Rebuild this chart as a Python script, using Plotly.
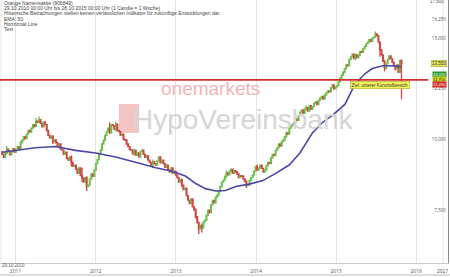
import math
import plotly.graph_objects as go
import pandas as pd

# ---- weekly closes (1 candle = 1 week, from 2010-11-01) ----
closes = [
    9.40, 9.28, 9.45, 9.60, 9.52, 9.38, 9.50, 9.62, 9.48,
    9.55, 9.70, 9.62, 9.85, 9.96,
    10.10, 10.02, 10.20, 10.35, 10.28,
    10.45, 10.60, 10.52, 10.75, 10.70,
    10.82, 10.65, 10.50, 10.72, 10.60,
    10.35, 10.15, 10.04,
    10.12, 9.90, 9.96,
    9.85, 9.72, 9.80, 9.60, 9.56,
    9.40, 9.48, 9.25, 9.18,
    9.30, 9.10, 8.95, 9.00,
    8.85, 8.70, 8.90, 8.62, 8.54,
    8.40, 8.55, 8.25, 8.30,
    8.50, 8.68, 8.60, 8.82,
    9.05, 9.20, 9.40, 9.56,
    9.80, 9.95, 10.15, 10.30,
    10.45, 10.25, 10.60, 10.55,
    10.40, 10.62, 10.35, 10.30,
    10.15, 10.20, 9.98, 9.96,
    9.80, 9.70, 9.58, 9.56,
    9.42, 9.55, 9.37,
    9.45, 9.30, 9.50, 9.56,
    9.40, 9.28, 9.35, 9.18,
    9.10, 8.95, 9.12, 9.05, 9.00,
    9.15, 9.30, 9.08, 9.18,
    9.05, 8.92, 9.00, 8.82,
    8.75, 8.90, 8.70, 8.78, 8.64,
    8.55, 8.40, 8.48, 8.30,
    8.15, 8.20, 7.95, 7.81,
    7.70, 7.85, 7.60, 7.50,
    7.30, 7.12, 6.95, 7.05,
    6.98, 7.15, 7.20,
    7.35, 7.50, 7.42, 7.66,
    7.80, 7.72, 7.90, 7.97,
    8.10, 8.25, 8.40, 8.47,
    8.60, 8.72, 8.65, 8.78,
    8.85, 8.70, 8.80, 8.75,
    8.68, 8.55, 8.62, 8.60,
    8.50, 8.42, 8.28, 8.30,
    8.45, 8.55, 8.64,
    8.78, 8.95, 8.82, 8.89,
    9.00, 8.88, 8.75, 8.82,
    8.98, 9.10, 9.05, 9.26,
    9.40, 9.35, 9.55, 9.64,
    9.80, 9.72, 9.90, 9.96,
    10.10, 10.25, 10.20, 10.45,
    10.55, 10.62, 10.70,
    10.85, 10.78, 11.00, 11.15,
    11.25, 11.10, 11.30, 11.35,
    11.20, 11.45, 11.28, 11.40,
    11.55, 11.62, 11.50, 11.70,
    11.80, 11.88, 11.75, 11.95,
    12.05, 12.15, 12.10, 12.30,
    12.45, 12.25, 12.35, 12.40,
    12.60, 12.80, 12.95, 13.10,
    13.30, 13.50, 13.45, 13.80,
    13.95, 14.10, 13.85, 14.05,
    13.90, 14.05, 14.25, 14.20,
    14.40, 14.55, 14.70, 14.80,
    14.95, 14.85, 15.05,
    15.10, 15.30, 15.20,
    14.80, 14.35, 14.05,
    13.70, 13.30,
    13.55, 13.80, 14.00,
    13.85, 13.65,
    13.45, 13.30,
    13.50, 13.10,
    13.75, 13.55,
]
first_open = 9.50
# visible wicks: index -> (high, low)
wicks = {
    3: (9.72, 9.40), 12: (9.92, 9.55), 22: (10.90, 10.50), 24: (10.95, 10.68),
    33: (10.15, 9.80), 45: (9.35, 8.95), 52: (8.90, 8.40), 55: (8.60, 8.10),
    70: (10.70, 10.20), 74: (10.72, 10.30), 86: (9.62, 9.35), 98: (9.20, 8.88),
    117: (8.52, 8.22), 126: (7.55, 7.25), 128: (7.15, 6.80), 130: (7.10, 6.85),
    146: (8.80, 8.55), 159: (8.45, 8.20), 166: (9.02, 8.80), 185: (10.30, 10.05),
    198: (11.45, 11.22), 222: (13.15, 12.90), 230: (14.15, 13.75), 243: (15.45, 15.05),
    246: (14.40, 13.95), 249: (13.75, 13.15), 256: (13.50, 13.20), 260: (13.80, 11.75),
}

# 50-period moving average
ma_dates = ["2010-11-01", "2011-01-15", "2011-04-01", "2011-07-01", "2011-10-01", "2012-01-01",
            "2012-04-01", "2012-07-01", "2012-10-01", "2012-12-15", "2013-02-15", "2013-04-01",
            "2013-05-15", "2013-07-01", "2013-08-15", "2013-10-01", "2013-12-01", "2014-02-01",
            "2014-04-01", "2014-06-01", "2014-07-20", "2014-09-15", "2014-11-01", "2014-12-20",
            "2015-02-10", "2015-03-15", "2015-04-15", "2015-05-15", "2015-06-15", "2015-08-01",
            "2015-09-15", "2015-10-26"]
ma_values = [9.48, 9.55, 9.65, 9.70, 9.55, 9.45, 9.30, 9.10, 8.90, 8.78, 8.60, 8.35,
             8.18, 8.10, 8.12, 8.25, 8.33, 8.45, 8.70, 9.00, 9.45, 10.25, 10.70, 11.05,
             11.50, 12.20, 12.70, 13.05, 13.30, 13.45, 13.45, 13.40]

hline_value = 12.70
hline_dates = ["2010-10-22", "2016-02-25"]
level_labels = [("13,010", 13.01, "#2e9a2e", "white"),
                ("12,750", 12.75, "#c9d21c", "#333"),
                ("12,490", 12.49, "#d42b2b", "white")]
text_box_label = "Ziel: unterer Kurszielbereich"
text_box_date = "2015-07-19"
text_box_value = 12.44

year_ticks = ["2011-01-01", "2012-01-01", "2013-01-01", "2014-01-01", "2015-01-01", "2016-01-01"]
year_text = ["2011", "2012", "2013", "2014", "2015", "2016"]
y_ticks = [7.5, 10.0, 12.25, 15.0, 16.25]
y_text = ["7,500", "10,000", "12,250", "15,000", "16,250"]
y_top_label = "17,500"

dates = pd.date_range("2010-11-01", periods=len(closes), freq="7D")
opens = [first_open] + closes[:-1]
highs = [max(o, c) for o, c in zip(opens, closes)]
lows = [min(o, c) for o, c in zip(opens, closes)]
for i, (h, l) in wicks.items():
    if i < len(closes):
        highs[i], lows[i] = h, l

W, H = 450, 277
PL, PR, PT, PB = 0, 2, 0, 14
pw, ph = W - PL - PR, H - PT - PB


def px(x):
    return (x - PL) / pw


def py(y):
    return (H - PB - y) / ph


FONT = "Liberation Sans, Arial"

fig = go.Figure()
fig.add_trace(go.Candlestick(
    x=dates, open=opens, high=highs, low=lows, close=closes,
    increasing=dict(line=dict(color="#6cbf4a", width=1.3), fillcolor="#6cbf4a"),
    decreasing=dict(line=dict(color="#d24545", width=1.3), fillcolor="#d24545"),
    whiskerwidth=0, showlegend=False, hoverinfo="skip"))
fig.add_trace(go.Scatter(x=pd.to_datetime(ma_dates), y=ma_values, mode="lines",
                         line=dict(color="#4a47a8", width=1.6), showlegend=False, hoverinfo="skip"))
fig.add_trace(go.Scatter(x=pd.to_datetime(hline_dates), y=[hline_value, hline_value], mode="lines",
                         line=dict(color="#d23030", width=1.8), showlegend=False, hoverinfo="skip"))

small = dict(family=FONT, size=5, color="#444")
ann = []
header = ["Orange Namensaktie (906849)",
          "29.10.2010 00:00 Uhr bis 28.10.2015 00:00 Uhr (1 Candle = 1 Woche)",
          "Historische Betrachtungen stellen keinen verlässlichen Indikator für zukünftige Entwicklungen dar.",
          "EMA: 50", "Horizontal Line", "Text"]
hy = [3, 8, 13, 19, 24, 29]
for t, yy in zip(header, hy):
    ann.append(dict(text=t, xref="paper", yref="paper", x=px(2), y=py(yy), xanchor="left",
                    yanchor="middle", showarrow=False, font=small))
# watermark
ann.append(dict(text="onemarkets", xref="paper", yref="paper", x=px(210), y=py(88),
                xanchor="center", yanchor="middle", showarrow=False,
                font=dict(family=FONT, size=19, color="#f2b5b5")))
ann.append(dict(text="HypoVereinsbank", xref="paper", yref="paper", x=px(243), y=py(119),
                xanchor="center", yanchor="middle", showarrow=False,
                font=dict(family=FONT, size=28, color="#d5d5d5")))
# text box (log axis -> annotation y in log10 units)
ann.append(dict(text=text_box_label, x=text_box_date, y=math.log10(text_box_value), xref="x", yref="y",
                xanchor="center", yanchor="middle", showarrow=False,
                font=dict(family=FONT, size=4.5, color="#333"),
                bgcolor="#f5f55a", bordercolor="#9a9a20", borderwidth=0.5, borderpad=1))
# price labels at the right
for t, v, bg, fc in level_labels:
    ann.append(dict(text=t, x=px(447), xref="paper", y=math.log10(v), yref="y", xanchor="right",
                    yanchor="middle", showarrow=False, font=dict(family=FONT, size=4, color=fc),
                    bgcolor=bg, borderpad=0))
ann.append(dict(text=f"{closes[-1]:.3f}".replace(".", ","), x=px(447), xref="paper",
                y=math.log10(closes[-1]), yref="y",
                xanchor="right", yanchor="middle", showarrow=False,
                font=dict(family=FONT, size=4.5, color="#333"),
                bgcolor="#e9e957", bordercolor="#999933", borderwidth=0.5, borderpad=0.5))
ann.append(dict(text=y_top_label, xref="paper", yref="paper", x=px(446), y=py(1.5), xanchor="right",
                yanchor="middle", showarrow=False, font=dict(family=FONT, size=4.5, color="#555")))
# bottom labels
ann.append(dict(text="29.10.2010", xref="paper", yref="paper", x=px(0), y=py(265.5), xanchor="left",
                yanchor="middle", showarrow=False, font=dict(family=FONT, size=4.5, color="#555")))
ann.append(dict(text="2017", xref="paper", yref="paper", x=px(442), y=py(270.5), xanchor="center",
                yanchor="middle", showarrow=False, font=dict(family=FONT, size=5, color="#555")))

shapes = [
    dict(type="rect", xref="paper", yref="paper", x0=px(119), x1=px(139), y0=py(133), y1=py(104),
         fillcolor="#f2c4c4", line=dict(width=0), layer="below"),
    dict(type="line", xref="paper", yref="paper", x0=px(443), x1=px(443), y0=0, y1=1,
         line=dict(color="#e4e4e4", width=1), layer="below"),
    dict(type="line", xref="paper", yref="paper", x0=px(1), x1=px(1), y0=0, y1=1,
         line=dict(color="#e4e4e4", width=1), layer="below"),
    dict(type="line", xref="paper", yref="paper", x0=px(0), x1=px(450), y0=py(275), y1=py(275),
         line=dict(color="#bbbbbb", width=1)),
]

fig.update_layout(
    width=W, height=H, margin=dict(l=PL, r=PR, t=PT, b=PB),
    paper_bgcolor="white", plot_bgcolor="white",
    annotations=ann, shapes=shapes,
    xaxis=dict(type="date", range=["2010-10-22", "2016-05-25"], tickvals=year_ticks, ticktext=year_text,
               showgrid=True, gridcolor="#e4e4e4", gridwidth=1, ticks="", tickfont=dict(size=5, color="#555"),
               ticklabelstandoff=3,
               rangeslider=dict(visible=False), showline=True, linecolor="#cccccc", zeroline=False,
               fixedrange=True),
    yaxis=dict(type="log", range=[0.7820, 1.2444], side="right", tickvals=y_ticks, ticktext=y_text,
               ticklabelposition="inside", ticks="", showgrid=False, zeroline=False,
               tickfont=dict(size=4.5, color="#555"), showline=True, linecolor="#888888", mirror=False),
)

fig.write_html("out.html")
